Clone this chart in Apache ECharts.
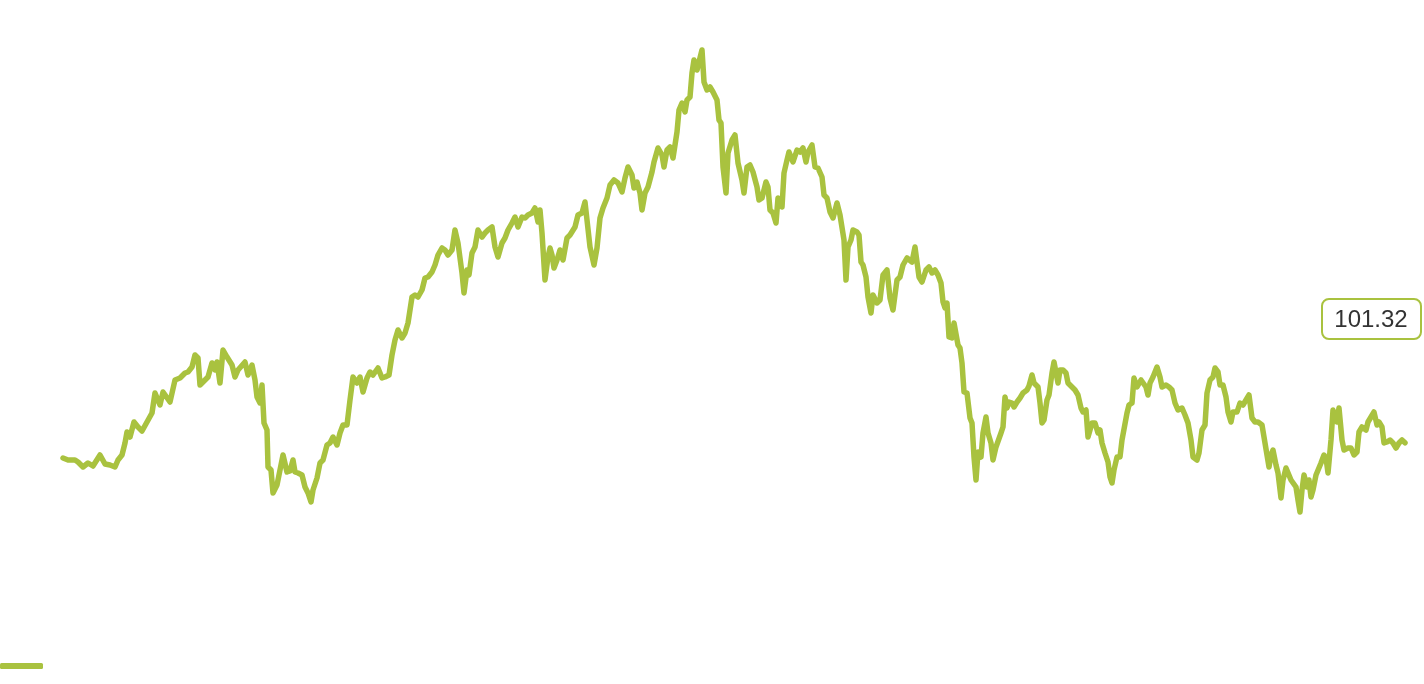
<!DOCTYPE html>
<html>
<head>
<meta charset="utf-8">
<script src="https://cdn.jsdelivr.net/npm/echarts@6/dist/echarts.min.js"></script>
<style>
html,body{margin:0;padding:0;background:#fff;}
#chart{width:1424px;height:684px;}
</style>
</head>
<body>
<div id="chart"></div>
<script>
// Calendar day offset from the start of the series
const days = [0,5,12,15,20,25,30,37,42,47,52,55,59,62,64,67,71,75,79,84,89,92,97,100,107,112,117,122,125,129,132,135,137,140,145,149,152,154,157,160,164,169,172,175,182,185,189,192,194,197,199,201,204,205,208,210,214,217,220,224,227,230,232,235,239,242,245,248,250,254,257,260,264,267,270,274,277,280,284,287,290,294,297,300,304,307,310,315,319,322,326,329,332,335,339,342,345,349,352,355,359,362,365,369,372,375,379,382,385,389,392,395,399,401,404,406,409,412,415,419,422,425,429,432,435,439,442,445,449,452,455,459,462,465,469,472,475,477,479,482,485,487,489,491,494,497,500,504,507,512,515,519,522,527,531,534,537,540,544,547,551,555,559,562,565,569,571,574,577,579,582,585,589,591,595,599,601,604,607,610,614,616,619,622,624,627,629,631,634,639,641,644,647,650,654,656,658,660,663,665,669,672,675,679,681,684,687,690,694,696,699,703,705,707,710,713,715,719,721,724,726,730,734,737,740,743,745,749,752,755,759,761,764,767,770,774,777,781,783,785,788,790,794,796,798,800,803,805,808,810,814,817,820,824,827,830,834,837,840,844,845,849,852,854,856,859,863,866,869,872,875,878,880,882,884,886,889,891,895,897,899,901,904,907,909,911,913,915,918,920,923,925,928,930,933,935,938,940,942,944,946,949,951,954,957,960,964,966,969,971,975,977,979,981,984,986,989,991,995,997,1000,1003,1005,1009,1012,1015,1018,1020,1023,1025,1027,1029,1032,1035,1037,1039,1042,1045,1047,1049,1051,1054,1057,1059,1061,1064,1066,1069,1071,1074,1078,1080,1083,1085,1087,1090,1094,1097,1099,1103,1106,1109,1112,1115,1119,1122,1125,1128,1130,1134,1136,1139,1142,1144,1147,1150,1152,1155,1157,1160,1163,1165,1168,1170,1174,1177,1180,1183,1186,1189,1192,1195,1199,1201,1204,1206,1208,1210,1213,1215,1218,1220,1223,1225,1228,1230,1233,1235,1237,1239,1241,1244,1246,1248,1250,1253,1255,1258,1261,1263,1265,1268,1270,1272,1274,1276,1279,1281,1285,1288,1291,1294,1296,1299,1303,1305,1308,1311,1314,1316,1319,1321,1324,1327,1330,1333,1336,1339,1342];
// Index level
const values = [99.8,99.6,99.6,99.4,98.9,99.3,99.0,100.1,99.2,99.1,98.9,99.6,100.1,101.3,102.4,101.9,103.4,102.9,102.5,103.4,104.3,106.3,105.1,106.4,105.4,107.6,107.8,108.3,108.4,108.9,110.1,109.8,107.1,107.4,107.9,109.3,108.6,109.4,107.3,110.6,109.9,109.1,107.9,108.6,109.4,108.1,109.1,107.6,105.9,105.3,107.1,103.3,102.6,98.9,98.6,96.3,97.1,98.6,100.1,98.4,98.5,99.6,98.4,98.3,98.1,96.9,96.3,95.4,96.6,97.8,99.3,99.6,101.1,101.3,101.9,101.1,102.3,103.1,103.1,105.6,107.9,107.3,107.9,106.4,107.8,108.4,108.1,108.8,107.8,107.9,108.1,110.1,111.6,112.6,111.8,112.3,113.3,115.9,116.1,115.9,116.6,117.8,117.9,118.4,119.1,120.1,120.8,120.6,120.1,120.6,122.6,121.3,118.3,116.3,118.6,118.1,120.3,120.9,122.6,121.9,122.3,122.6,122.9,120.9,119.9,121.3,121.8,122.6,123.3,123.9,122.9,123.9,123.8,124.1,124.3,124.8,123.4,124.6,122.3,117.6,119.9,120.8,120.1,118.8,119.6,120.6,119.6,121.8,122.1,122.9,124.1,124.3,125.4,120.9,119.1,120.8,123.8,124.8,125.8,127.1,127.6,127.3,126.4,127.8,128.9,128.1,126.8,127.4,126.3,124.6,126.3,126.9,128.4,129.4,130.8,130.1,128.9,130.6,130.9,129.8,132.4,134.6,135.3,134.4,135.6,135.9,138.3,139.6,138.6,140.6,137.4,136.6,136.9,136.4,135.6,133.6,133.3,128.9,126.3,130.3,131.6,132.1,129.3,127.6,126.3,128.9,129.1,128.4,126.9,125.6,125.8,127.4,126.9,124.6,124.3,123.3,125.8,124.9,128.3,129.6,130.4,129.4,130.6,130.4,130.8,129.4,130.4,131.1,128.9,128.8,127.9,126.1,125.8,124.4,123.8,125.3,124.1,121.6,117.6,120.9,121.6,122.6,122.4,122.1,119.4,119.1,117.9,115.9,114.3,116.1,115.3,115.6,118.1,118.6,115.8,114.6,117.6,117.9,119.1,119.8,119.9,119.4,120.9,121.1,117.9,117.4,118.6,118.9,118.3,118.6,118.1,117.3,115.4,114.8,115.3,111.9,111.8,113.3,111.1,110.8,109.3,106.4,106.3,103.8,103.3,99.9,97.6,100.4,99.9,102.3,103.9,102.3,101.3,99.6,100.9,100.9,102.3,102.9,105.9,104.8,105.4,105.3,104.9,105.4,105.8,106.3,106.6,107.0,108.1,107.3,106.9,105.3,103.3,103.6,105.6,106.1,108.3,109.4,107.3,108.6,108.6,108.3,107.3,106.9,106.6,106.1,104.8,104.4,104.6,101.9,101.8,103.3,103.3,102.3,102.6,101.3,100.3,99.4,97.9,97.3,98.6,99.9,99.9,101.6,101.6,104.3,105.1,105.3,107.8,106.9,107.6,107.4,106.9,106.1,107.3,107.9,108.9,107.9,106.9,107.1,106.9,106.6,105.3,104.6,104.8,104.1,103.3,101.6,99.9,99.6,100.3,102.6,103.1,106.3,107.6,107.9,108.8,108.4,107.1,107.1,105.9,104.4,103.4,104.4,104.4,105.3,105.1,105.6,106.1,103.8,103.4,103.4,103.1,101.9,100.1,98.9,100.1,100.6,99.1,98.3,95.8,97.6,98.8,98.6,97.6,97.4,96.9,95.6,94.4,96.6,98.1,96.9,97.6,95.9,96.6,98.1,98.3,99.3,100.1,99.8,98.3,101.6,104.6,104.8,103.4,104.8,101.6,100.6,100.8,100.8,100.1,100.4,102.4,102.9,102.6,103.4,103.9,104.4,103.1,103.4,102.9,101.3,101.4,101.6,101.3,100.8,101.3,101.6,101.32];
const lastLabel = '101.32';
const seriesName = 'Index';

const color = '#a9c23f';
const chart = echarts.init(document.getElementById('chart'), null, {renderer: 'canvas'});
const data = days.map((d, i) => [d, values[i]]);
chart.setOption({
  animation: false,
  backgroundColor: '#ffffff',
  grid: {left: 63, right: 19, top: 0, bottom: 0, containLabel: false},
  xAxis: {type: 'value', min: 0, max: days[days.length - 1], show: false},
  yAxis: {type: 'value', min: 77.2, max: 145.6, show: false},
  legend: {
    left: 0, bottom: 15, padding: 0, itemWidth: 43, itemHeight: 6, icon: 'roundRect', itemGap: 0,
    formatter: function () { return ''; },
    data: [{name: seriesName, icon: 'roundRect', itemStyle: {color: color}}]
  },
  series: [{
    name: seriesName, type: 'line', data: data, showSymbol: false, symbol: 'none',
    lineStyle: {color: color, width: 5.5, cap: 'round', join: 'round'},
    itemStyle: {color: color}
  }],
  graphic: [
    {type: 'rect', z: 100, shape: {x: 1322, y: 299, width: 99, height: 40, r: 7},
     style: {fill: '#ffffff', stroke: color, lineWidth: 2}},
    {type: 'text', z: 101, x: 1371, y: 320,
     style: {text: lastLabel, fill: '#333333', font: '24px "Liberation Sans", Arial, sans-serif', textAlign: 'center', textVerticalAlign: 'middle'}}
  ]
});
</script>
</body>
</html>
